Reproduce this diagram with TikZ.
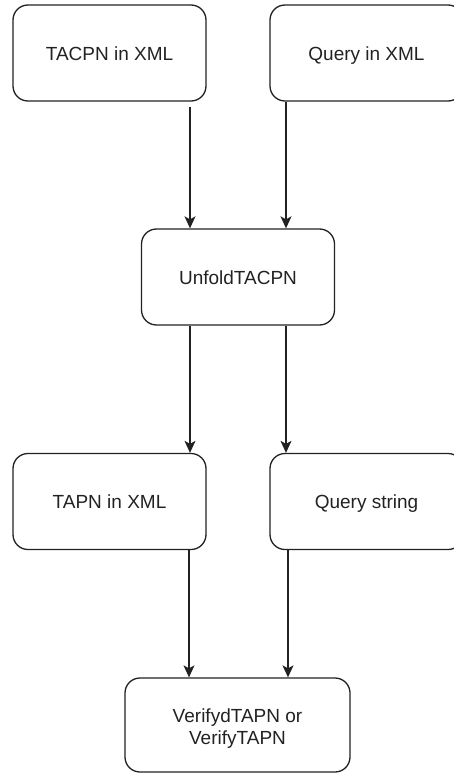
\documentclass[tikz,border=0pt]{standalone}
\usepackage{fontspec}
\setmainfont{Liberation Sans}
\usetikzlibrary{arrows.meta}
\definecolor{ink}{HTML}{222222}
\newcommand{\boxstrut}{\rule[-6.6pt]{0pt}{28pt}}
\newcommand{\tallstrut}{\rule[-6.6pt]{0pt}{30pt}}
\tikzset{
  box/.style={draw=ink, line width=1.3pt, rounded corners=15pt, minimum width=193pt, minimum height=96pt, align=center, text=ink, inner sep=0pt, font=\fontsize{19}{22}\selectfont, execute at begin node=\boxstrut},
  flow/.style={draw=ink, line width=1.3pt, -{Stealth[length=12pt, width=11pt, inset=3pt]}}
}
\begin{document}
\begin{tikzpicture}[x=1pt, y=-1pt]
\useasboundingbox (0,0) rectangle (454,773);
\clip (0,0) rectangle (454,773);
\node[box] (b1) at (109.5,53) {TACPN in XML};
\node[box] (b2) at (366.5,53) {Query in XML};
\node[box] (b3) at (238,277) {UnfoldTACPN};
\node[box] (b4) at (109.5,501.5) {TAPN in XML};
\node[box] (b5) at (366.5,501.5) {Query string};
\node[box, minimum width=225pt, minimum height=94pt, execute at begin node={}] (b6) at (237.5,725) {\tallstrut VerifydTAPN or\\VerifyTAPN};
\coordinate (xa) at (190,0);
\coordinate (xb) at (286,0);
\coordinate (xc) at (189,0);
\coordinate (xd) at (288,0);
\draw[flow, shorten <=5pt] (b1.south -| xa) -- (b3.north -| xa);
\draw[flow] (b2.south -| xb) -- (b3.north -| xb);
\draw[flow] (b3.south -| xa) -- (b4.north -| xa);
\draw[flow] (b3.south -| xb) -- (b5.north -| xb);
\draw[flow] (b4.south -| xc) -- (b6.north -| xc);
\draw[flow] (b5.south -| xd) -- (b6.north -| xd);
\end{tikzpicture}
\end{document}
